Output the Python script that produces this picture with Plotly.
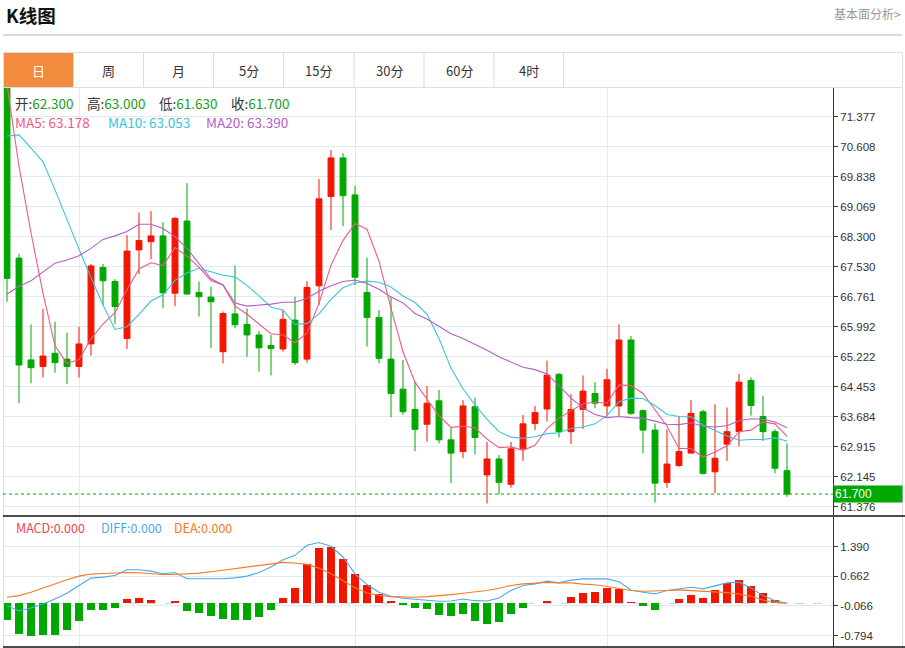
import plotly.graph_objects as go

# ---------------- data ----------------
idx = list(range(66))

opn = [72.60, 67.75, 65.14, 64.97, 65.31, 65.16, 64.97, 65.55, 67.51, 67.15,
       65.69, 67.96, 68.17, 68.32, 66.85, 68.70, 66.87, 66.75, 65.35, 66.32,
       66.05, 65.78, 65.51, 65.42, 66.16, 65.16, 67.04, 69.33, 70.32, 69.37,
       66.87, 66.23, 65.16, 64.39, 63.87, 63.49, 64.09, 63.09, 62.79, 63.94,
       62.19, 62.60, 61.95, 62.86, 63.51, 63.88, 64.77, 63.30, 63.87, 64.28,
       63.96, 63.96, 65.65, 63.84, 63.34, 62.00, 62.43, 62.75, 63.81, 62.27,
       62.98, 63.30, 64.61, 63.69, 63.30, 62.30]
high = [72.80, 67.86, 66.05, 66.45, 66.12, 65.84, 65.99, 67.60, 67.60, 67.21,
        68.34, 68.92, 68.96, 68.67, 68.80, 69.67, 67.15, 67.02, 66.38, 67.56,
        66.46, 65.88, 65.78, 66.42, 66.76, 67.16, 69.78, 70.52, 70.44, 69.60,
        67.76, 66.42, 66.76, 65.14, 64.58, 64.47, 64.37, 63.40, 64.11, 64.17,
        63.04, 62.70, 63.04, 63.73, 63.96, 65.12, 64.80, 64.26, 64.74, 64.57,
        64.91, 66.05, 65.75, 63.87, 63.51, 63.36, 63.69, 64.11, 63.86, 64.00,
        63.92, 64.78, 64.69, 64.22, 63.36, 63.00]
low = [66.63, 64.03, 64.54, 64.69, 64.81, 64.52, 64.69, 65.25, 66.55, 66.06,
       65.42, 67.34, 67.72, 66.46, 66.52, 66.80, 66.25, 65.45, 65.05, 65.95,
       65.22, 64.84, 64.74, 65.35, 65.01, 65.07, 66.55, 68.47, 68.57, 67.06,
       65.48, 65.05, 63.67, 63.73, 62.80, 63.04, 63.00, 61.98, 62.62, 62.72,
       61.46, 61.69, 61.86, 62.55, 63.34, 63.56, 63.15, 62.98, 63.37, 63.90,
       63.69, 63.69, 63.73, 62.75, 61.48, 61.86, 62.40, 62.75, 62.20, 61.72,
       62.55, 62.92, 63.71, 63.06, 62.23, 61.63]
close = [67.23, 65.01, 64.94, 65.24, 65.07, 64.97, 65.55, 67.55, 67.17, 66.51,
         67.93, 68.20, 68.32, 66.86, 68.77, 66.83, 66.76, 66.63, 66.33, 66.04,
         65.78, 65.45, 65.43, 66.18, 65.07, 67.00, 69.27, 70.32, 69.35, 67.26,
         66.23, 65.18, 64.28, 63.81, 63.36, 64.03, 63.09, 62.75, 63.96, 63.15,
         62.60, 62.00, 62.86, 63.50, 63.79, 64.75, 63.30, 63.87, 64.34, 64.03,
         64.63, 65.65, 63.77, 63.34, 61.98, 62.47, 62.79, 63.77, 62.23, 62.62,
         63.30, 64.57, 63.97, 63.30, 62.36, 61.70]

ma5 = [72.20, 70.10, 68.40, 66.85, 65.50, 65.05, 65.15, 65.68, 66.06, 66.35,
       66.94, 67.47, 67.63, 67.56, 68.02, 67.80, 67.51, 67.17, 67.06, 66.52,
       66.31, 66.05, 65.81, 65.78, 65.58, 65.83, 66.59, 67.57, 68.20, 68.64,
       68.49, 67.67, 66.46, 65.35, 64.57, 64.13, 63.71, 63.41, 63.44, 63.40,
       63.11, 62.89, 62.91, 62.82, 62.95, 63.38, 63.64, 63.84, 64.01, 64.06,
       64.03, 64.50, 64.48, 64.28, 63.87, 63.44, 62.87, 62.87, 62.65, 62.78,
       62.94, 63.30, 63.34, 63.55, 63.50, 63.18]
ma10 = [70.88, 70.91, 70.57, 70.22, 69.50, 68.73, 67.98, 67.25, 66.55, 65.92,
        65.99, 66.31, 66.65, 66.81, 67.18, 67.37, 67.49, 67.40, 67.31, 67.27,
        67.05, 66.78, 66.49, 66.42, 66.05, 66.07, 66.32, 66.69, 66.99, 67.11,
        67.16, 67.13, 67.01, 66.78, 66.61, 66.31, 65.69, 64.93, 64.40, 63.98,
        63.62, 63.30, 63.16, 63.13, 63.17, 63.25, 63.27, 63.38, 63.42, 63.50,
        63.71, 64.07, 64.16, 64.15, 63.97, 63.74, 63.69, 63.68, 63.47, 63.33,
        63.19, 63.08, 63.10, 63.10, 63.14, 63.06]
ma20 = [66.83, 67.02, 67.17, 67.40, 67.62, 67.70, 67.81, 68.00, 68.23, 68.32,
        68.43, 68.62, 68.62, 68.51, 68.30, 68.00, 67.62, 67.22, 67.06, 66.60,
        66.52, 66.55, 66.57, 66.62, 66.62, 66.72, 66.90, 67.04, 67.15, 67.19,
        67.10, 66.95, 66.75, 66.60, 66.33, 66.19, 66.01, 65.81, 65.69, 65.55,
        65.39, 65.22, 65.09, 64.95, 64.89, 64.78, 64.48, 64.16, 63.91, 63.74,
        63.66, 63.69, 63.66, 63.64, 63.57, 63.49, 63.48, 63.53, 63.44, 63.42,
        63.45, 63.58, 63.63, 63.62, 63.55, 63.40]

diff = [-0.059, -0.183, -0.117, -0.018, 0.106, 0.246, 0.436, 0.617, 0.642, 0.683,
        0.823, 0.823, 0.790, 0.724, 0.757, 0.601, 0.601, 0.601, 0.601, 0.625,
        0.667, 0.757, 0.889, 1.071, 1.178, 1.426, 1.492, 1.401, 1.137, 0.724,
        0.460, 0.269, 0.172, 0.122, 0.097, 0.081, 0.048, 0.056, 0.106, 0.064,
        0.056, 0.130, 0.312, 0.436, 0.477, 0.543, 0.502, 0.568, 0.600, 0.600,
        0.600, 0.530, 0.328, 0.271, 0.230, 0.312, 0.361, 0.394, 0.353, 0.419,
        0.500, 0.518, 0.378, 0.188, 0.064, 0.000]
dea = [0.147, 0.188, 0.271, 0.378, 0.477, 0.576, 0.667, 0.717, 0.733, 0.750,
       0.757, 0.750, 0.724, 0.708, 0.708, 0.717, 0.741, 0.774, 0.815, 0.839,
       0.880, 0.922, 0.964, 1.005, 0.988, 0.955, 0.864, 0.724, 0.559, 0.378,
       0.254, 0.196, 0.163, 0.147, 0.147, 0.163, 0.180, 0.213, 0.246, 0.271,
       0.312, 0.370, 0.436, 0.477, 0.502, 0.510, 0.502, 0.502, 0.470, 0.455,
       0.410, 0.360, 0.312, 0.295, 0.295, 0.312, 0.328, 0.312, 0.295, 0.271,
       0.262, 0.229, 0.172, 0.081, 0.023, 0.000]
macd = [-0.414, -0.760, -0.800, -0.786, -0.769, -0.662, -0.439, -0.175, -0.175, -0.117,
        0.106, 0.130, 0.089, 0.005, 0.064, -0.200, -0.249, -0.307, -0.389, -0.422,
        -0.414, -0.340, -0.158, 0.122, 0.378, 0.955, 1.351, 1.393, 1.087, 0.708,
        0.460, 0.229, 0.048, -0.051, -0.125, -0.142, -0.290, -0.315, -0.266, -0.431,
        -0.513, -0.472, -0.274, -0.117, 0.000, 0.064, 0.000, 0.147, 0.262, 0.287,
        0.378, 0.345, 0.040, -0.059, -0.158, 0.000, 0.097, 0.205, 0.130, 0.320,
        0.493, 0.584, 0.436, 0.254, 0.081, 0.000]

price_ticks = [71.377, 70.608, 69.838, 69.069, 68.300, 67.530, 66.761, 65.992,
               65.222, 64.453, 63.684, 62.915, 62.145, 61.376]
macd_ticks = [1.390, 0.662, -0.066, -0.794]
month_marks = [6, 29, 50]

tabs = ["日", "周", "月", "5分", "15分", "30分", "60分", "4时"]
ma_legend = [("MA5: 63.178", "#ee5a88"), ("MA10: 63.053", "#3cc4dc"), ("MA20: 63.390", "#b45ec8")]
macd_legend = [("MACD:0.000", "#f04646"), ("DIFF:0.000", "#4ea8ec"), ("DEA:0.000", "#f57a22")]

# ---------------- styling ----------------
W, H = 905, 648
RED = "#f21600"
GREEN = "#00a800"
GRID = "#e2eaf1"
CJK = "Noto Sans CJK SC"
NUMF = "Liberation Sans"


def px(x):
    return x / W


def py(y):
    return 1 - y / H


fig = go.Figure()

fig.add_trace(go.Candlestick(
    x=idx, open=opn, high=high, low=low, close=close,
    increasing=dict(line=dict(color=RED, width=1), fillcolor=RED),
    decreasing=dict(line=dict(color=GREEN, width=1), fillcolor=GREEN),
    whiskerwidth=0, xaxis="x", yaxis="y", hoverinfo="skip", showlegend=False))

for vals, col in [(ma5, ma_legend[0][1]), (ma10, ma_legend[1][1]), (ma20, ma_legend[2][1])]:
    fig.add_trace(go.Scatter(x=idx, y=vals, mode="lines", line=dict(color=col, width=1.1),
                             xaxis="x", yaxis="y", hoverinfo="skip", showlegend=False))

fig.add_trace(go.Bar(x=idx, y=macd, width=0.72,
                     marker=dict(color=[RED if v >= 0 else GREEN for v in macd], line=dict(width=0)),
                     xaxis="x2", yaxis="y2", hoverinfo="skip", showlegend=False))
fig.add_trace(go.Scatter(x=idx, y=diff, mode="lines", line=dict(color=macd_legend[1][1], width=1.1),
                         xaxis="x2", yaxis="y2", hoverinfo="skip", showlegend=False))
fig.add_trace(go.Scatter(x=idx, y=dea, mode="lines", line=dict(color=macd_legend[2][1], width=1.1),
                         xaxis="x2", yaxis="y2", hoverinfo="skip", showlegend=False))

xr = [-0.333, 68.833]
xcommon = dict(domain=[px(3), px(833)], range=xr, tickvals=month_marks, showticklabels=False,
               showgrid=True, gridcolor=GRID, gridwidth=1, zeroline=False, ticks="", fixedrange=True)
ycommon = dict(side="right", ticks="outside", ticklen=4, tickcolor="#333", showline=True,
               linecolor="#333", linewidth=1, showgrid=True, gridcolor=GRID, gridwidth=1,
               zeroline=False, tickfont=dict(family=NUMF, size=11.5, color="#333"), fixedrange=True)

fig.update_layout(
    width=W, height=H, margin=dict(l=0, r=0, t=0, b=0),
    paper_bgcolor="white", plot_bgcolor="white", showlegend=False,
    xaxis=dict(anchor="y", rangeslider=dict(visible=False), **xcommon),
    xaxis2=dict(anchor="y2", **xcommon),
    yaxis=dict(anchor="x", domain=[py(515), py(88)], range=[61.163, 72.112],
               tickvals=price_ticks, ticktext=[f"{v:.3f}" for v in price_ticks], **ycommon),
    yaxis2=dict(anchor="x2", domain=[py(647), py(517)], range=[-1.074, 2.119],
                tickvals=macd_ticks, ticktext=[f"{v:.3f}" for v in macd_ticks], **ycommon),
    bargap=0,
)

shapes = []


def pline(x0, y0, x1, y1, color, width=1, dash="solid"):
    shapes.append(dict(type="line", xref="paper", yref="paper", x0=px(x0), y0=py(y0),
                       x1=px(x1), y1=py(y1), line=dict(color=color, width=width, dash=dash)))


# header rule
pline(3, 35, 902, 35, "#cccccc", 1.5)
# tab bar
shapes.append(dict(type="rect", xref="paper", yref="paper", x0=px(4), y0=py(53), x1=px(73), y1=py(87),
                   fillcolor="#f28b3e", line=dict(width=0)))
pline(3, 52.5, 902, 52.5, "#dddddd")
pline(3, 87.5, 902, 87.5, "#dddddd")
for xs in [3.5, 73.5, 143.5, 213.5, 283.5, 354, 424, 494, 563.5, 902.5]:
    pline(xs, 52.5, xs, 87.5, "#dddddd")
# outer borders of chart box
pline(3.5, 88, 3.5, 647, "#dddddd")
pline(902.5, 88, 902.5, 647, "#dddddd")
# pane separators
pline(3, 516, 905, 516, "#111111", 1.5)
pline(3, 647, 905, 647, "#111111", 1.5)
# last price dotted line
shapes.append(dict(type="line", xref="x domain", yref="y", x0=0, x1=1, y0=close[-1], y1=close[-1],
                   line=dict(color=GREEN, width=1, dash="dot"), layer="above"))
# MACD zero dashed line
shapes.append(dict(type="line", xref="x2 domain", yref="y2", x0=0, x1=1, y0=0, y1=0,
                   line=dict(color="#a9dbe3", width=1, dash="dash"), layer="below"))
fig.update_layout(shapes=shapes)

ann = []


def text(x, y, s, size=13, color="#333", family=CJK, xanchor="left", **kw):
    ann.append(dict(xref="paper", yref="paper", x=px(x), y=py(y), text=s, showarrow=False,
                    xanchor=xanchor, yanchor="middle", font=dict(family=family, size=size, color=color), **kw))


text(4, 15, "<b>K线图</b>", size=18.5, color="#111")
text(903, 14, "基本面分析>", size=12, color="#999", xanchor="right")
tab_centers = [38.5, 108.5, 178.5, 248.5, 318.5, 389, 459, 528.5]
for t, cx in zip(tabs, tab_centers):
    text(cx, 70, t, size=13, color="white" if t == "日" else "#333", xanchor="center")

vg = "#1a9e1a"
ohlc_items = [("开", opn[-1], 13), ("高", high[-1], 85), ("低", low[-1], 157), ("收", close[-1], 229)]
for lab, v, x in ohlc_items:
    text(x, 103, f"{lab}:<span style='color:{vg}'>{v:.3f}</span>", size=13.5)
for (s, col), x in zip(ma_legend, [13, 106, 204]):
    text(x, 122, s, size=13.5, color=col)
for (s, col), x in zip(macd_legend, [14, 99, 172]):
    text(x, 527, s, size=12.5, color=col)

# last price tag on the axis
ann.append(dict(xref="paper", yref="y", x=px(833), y=close[-1], text=f"{close[-1]:.3f}",
                showarrow=False, xanchor="left", yanchor="middle", align="left",
                bgcolor=GREEN, width=66, height=14, borderpad=1,
                font=dict(family=NUMF, size=12, color="white")))
fig.update_layout(annotations=ann)

fig.write_html("out.html", config={"displayModeBar": False, "staticPlot": True},
               post_script="document.body.style.margin='0';document.body.style.overflow='hidden';")
